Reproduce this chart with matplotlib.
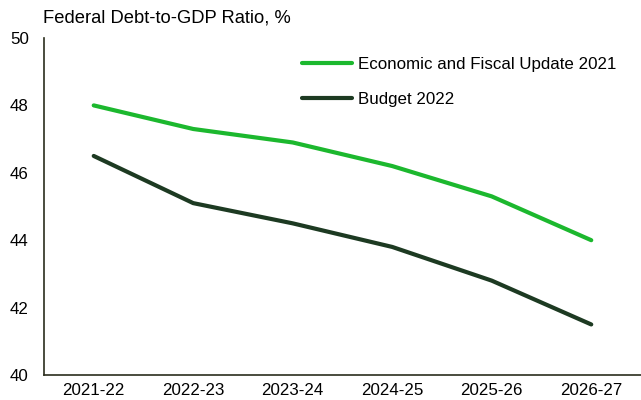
import matplotlib
matplotlib.use("Agg")
import matplotlib.pyplot as plt

plt.rcParams['font.family'] = ['Liberation Sans', 'DejaVu Sans']

years = ["2021-22", "2022-23", "2023-24", "2024-25", "2025-26", "2026-27"]
efu_2021 = [48.0, 47.3, 46.9, 46.2, 45.3, 44.0]
budget_2022 = [46.5, 45.1, 44.5, 43.8, 42.8, 41.5]
series_names = ["Economic and Fiscal Update 2021", "Budget 2022"]
yticks = [40, 42, 44, 46, 48, 50]

fig = plt.figure(figsize=(6.41, 4.0), dpi=100)
ax = fig.add_axes([0.0686, 0.0625, 0.9314, 0.8425])

x = list(range(len(years)))
ax.plot(x, efu_2021, color="#1cb82e", lw=3.0, solid_capstyle="round", label=series_names[0])
ax.plot(x, budget_2022, color="#1d3a22", lw=3.0, solid_capstyle="round", label=series_names[1])

ax.set_xlim(-0.5, 5.5)
ax.set_ylim(40, 50)
ax.set_yticks(yticks)
ax.set_xticks(x)
ax.set_xticklabels(years)
ax.tick_params(axis="both", length=0, labelsize=12.2, colors="black")
ax.tick_params(axis="y", pad=11)
ax.tick_params(axis="x", pad=6)

for s in ["top", "right"]:
    ax.spines[s].set_visible(False)
for s in ["left", "bottom"]:
    ax.spines[s].set_color("#2b2e1e")
    ax.spines[s].set_linewidth(1.2)

fig.text(0.067, 0.955, "Federal Debt-to-GDP Ratio, %", fontsize=13.2, ha="left", va="center")

leg = ax.legend(loc="upper left", bbox_to_anchor=(0.406, 0.99), frameon=False,
                fontsize=12.2, handlelength=3.0, handletextpad=0.35, labelspacing=1.2)

fig.savefig("out.png", dpi=100)
